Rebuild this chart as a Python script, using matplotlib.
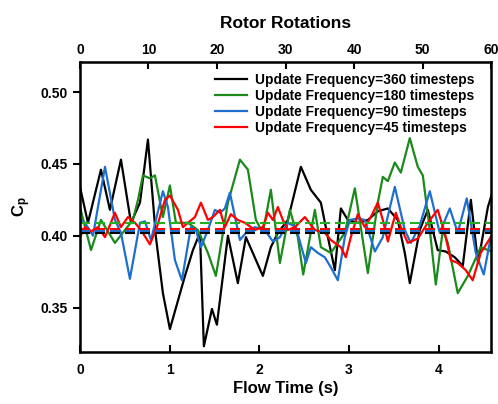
import numpy as np
import matplotlib.pyplot as plt

plt.rcParams['font.family'] = ['Liberation Sans', 'DejaVu Sans']
plt.rcParams['font.weight'] = 'bold'
plt.rcParams['mathtext.fontset'] = 'custom'
plt.rcParams['mathtext.rm'] = 'Liberation Sans:bold'
plt.rcParams['mathtext.it'] = 'Liberation Sans:bold'
plt.rcParams['mathtext.bf'] = 'Liberation Sans:bold'

# Cp traces (flow time in s, Cp)
t_360 = [0, 0.089, 0.234, 0.334, 0.457, 0.569, 0.669, 0.758, 0.847, 0.925, 1.003,
         1.171, 1.26, 1.338, 1.382, 1.472, 1.527, 1.65, 1.761, 1.851, 2.04, 2.129,
         2.207, 2.319, 2.464, 2.575, 2.687, 2.765, 2.843, 2.91, 2.988, 3.099, 3.211,
         3.322, 3.434, 3.545, 3.623, 3.679, 3.79, 3.88, 3.99, 4.08, 4.18, 4.27,
         4.36, 4.44, 4.55, 4.59]
cp_360 = [0.434, 0.409, 0.446, 0.418, 0.453, 0.409, 0.423, 0.467, 0.399, 0.360, 0.335,
          0.372, 0.390, 0.402, 0.323, 0.349, 0.338, 0.400, 0.367, 0.399, 0.372, 0.392,
          0.402, 0.411, 0.448, 0.432, 0.423, 0.399, 0.376, 0.419, 0.411, 0.409, 0.411,
          0.417, 0.419, 0.411, 0.388, 0.367, 0.404, 0.418, 0.390, 0.389, 0.385, 0.379,
          0.425, 0.381, 0.420, 0.428]

t_180 = [0, 0.123, 0.234, 0.39, 0.502, 0.591, 0.647, 0.702, 0.78, 0.836, 0.925,
         1.003, 1.07, 1.204, 1.315, 1.427, 1.516, 1.65, 1.784, 1.873, 1.962, 2.04,
         2.129, 2.23, 2.341, 2.43, 2.49, 2.62, 2.687, 2.798, 2.954, 3.066, 3.211,
         3.322, 3.378, 3.434, 3.512, 3.579, 3.679, 3.768, 3.824, 3.902, 3.969, 4.047,
         4.103, 4.214, 4.326, 4.47, 4.59]
cp_180 = [0.420, 0.390, 0.411, 0.395, 0.404, 0.411, 0.425, 0.442, 0.440, 0.442, 0.413,
          0.435, 0.409, 0.409, 0.404, 0.388, 0.372, 0.423, 0.453, 0.446, 0.411, 0.402,
          0.432, 0.381, 0.418, 0.399, 0.373, 0.418, 0.392, 0.388, 0.402, 0.433, 0.374,
          0.423, 0.441, 0.438, 0.451, 0.444, 0.468, 0.448, 0.442, 0.404, 0.366, 0.404,
          0.395, 0.360, 0.372, 0.392, 0.389]

t_90 = [0, 0.056, 0.145, 0.279, 0.39, 0.457, 0.557, 0.669, 0.725, 0.792, 0.925,
        0.981, 1.059, 1.137, 1.237, 1.293, 1.349, 1.427, 1.505, 1.561, 1.616, 1.672,
        1.784, 1.851, 1.951, 2.062, 2.152, 2.23, 2.319, 2.408, 2.52, 2.575, 2.653,
        2.731, 2.798, 2.876, 2.954, 3.01, 3.099, 3.177, 3.289, 3.378, 3.512, 3.623,
        3.69, 3.79, 3.902, 4.013, 4.125, 4.214, 4.314, 4.415, 4.504, 4.582]
cp_90 = [0.411, 0.409, 0.400, 0.448, 0.411, 0.402, 0.370, 0.409, 0.410, 0.397, 0.431,
         0.420, 0.383, 0.369, 0.406, 0.404, 0.392, 0.404, 0.418, 0.416, 0.419, 0.430,
         0.397, 0.402, 0.406, 0.404, 0.396, 0.399, 0.409, 0.406, 0.381, 0.392, 0.388,
         0.385, 0.378, 0.369, 0.399, 0.411, 0.412, 0.411, 0.389, 0.399, 0.434, 0.404,
         0.395, 0.407, 0.431, 0.402, 0.419, 0.402, 0.426, 0.388, 0.373, 0.399]

t_45 = [0, 0.056, 0.123, 0.2, 0.279, 0.39, 0.457, 0.535, 0.613, 0.68, 0.78,
        0.858, 0.948, 1.003, 1.093, 1.148, 1.204, 1.282, 1.349, 1.427, 1.483, 1.561,
        1.616, 1.683, 1.761, 1.839, 1.951, 2.04, 2.096, 2.152, 2.207, 2.263, 2.319,
        2.397, 2.508, 2.62, 2.731, 2.798, 2.91, 2.965, 3.021, 3.099, 3.177, 3.244,
        3.322, 3.378, 3.434, 3.523, 3.579, 3.657, 3.768, 3.88, 3.99, 4.069, 4.136,
        4.214, 4.303, 4.381, 4.47, 4.582]
cp_45 = [0.399, 0.406, 0.403, 0.406, 0.399, 0.416, 0.406, 0.413, 0.409, 0.404, 0.394,
         0.406, 0.425, 0.428, 0.418, 0.406, 0.409, 0.413, 0.423, 0.411, 0.413, 0.418,
         0.406, 0.415, 0.411, 0.409, 0.404, 0.406, 0.416, 0.411, 0.420, 0.411, 0.404,
         0.406, 0.413, 0.404, 0.402, 0.397, 0.392, 0.385, 0.399, 0.415, 0.406, 0.413,
         0.423, 0.411, 0.396, 0.416, 0.406, 0.395, 0.398, 0.409, 0.418, 0.402, 0.383,
         0.381, 0.376, 0.369, 0.388, 0.399]

# time-averaged Cp (dashed lines)
mean_cp = {'360': 0.402, '180': 0.409, '90': 0.4035, '45': 0.405}

labels = ['Update Frequency=360 timesteps', 'Update Frequency=180 timesteps',
          'Update Frequency=90 timesteps', 'Update Frequency=45 timesteps']
colors = ['black', '#1a8a1a', '#1f6fd0', '#ff0000']

t_end = 4.585
rot_end = 60

fig = plt.figure(figsize=(4.98, 4.04), dpi=100)
ax = fig.add_axes([0.1606, 0.1287, 0.8254, 0.7178])

series = [(t_360, cp_360), (t_180, cp_180), (t_90, cp_90), (t_45, cp_45)]
for (t, cp), c, lab in zip(series, colors, labels):
    ax.plot(t, cp, color=c, lw=1.6, label=lab, solid_joinstyle='round')

for key, c in zip(['180', '45', '90', '360'], ['#22b022', colors[3], colors[2], colors[0]]):
    ax.axhline(mean_cp[key], color=c, lw=1.5, ls=(0, (4.8, 2.4)))

ax.set_xlim(0, t_end)
ax.set_ylim(0.319, 0.521)
ax.set_xticks([0, 1, 2, 3, 4])
ax.set_yticks([0.35, 0.40, 0.45, 0.50])
ax.set_yticklabels(['0.35', '0.40', '0.45', '0.50'])
ax.tick_params(axis='x', direction='in', length=5, width=1.5, labelsize=10, pad=8)
ax.tick_params(axis='y', direction='out', length=5, width=1.5, labelsize=10)
for s in ax.spines.values():
    s.set_linewidth(1.8)
ax.set_xlabel('Flow Time (s)', fontsize=12, fontweight='bold', labelpad=3)
ax.set_ylabel(r'C$_p$', fontsize=12, fontweight='bold', labelpad=6)

top = ax.twiny()
top.set_xlim(0, rot_end)
top.set_xticks([0, 10, 20, 30, 40, 50, 60])
top.tick_params(axis='x', direction='in', length=5, width=1.5, labelsize=10)
top.set_xlabel('Rotor Rotations', fontsize=12.5, fontweight='bold', labelpad=11)

ax.legend(loc='upper right', frameon=False, fontsize=9.9, handlelength=2.3,
          labelspacing=0.15, borderaxespad=0.4, handletextpad=0.6,
          bbox_to_anchor=(0.987, 1.0))

fig.savefig('out.png', dpi=100)
